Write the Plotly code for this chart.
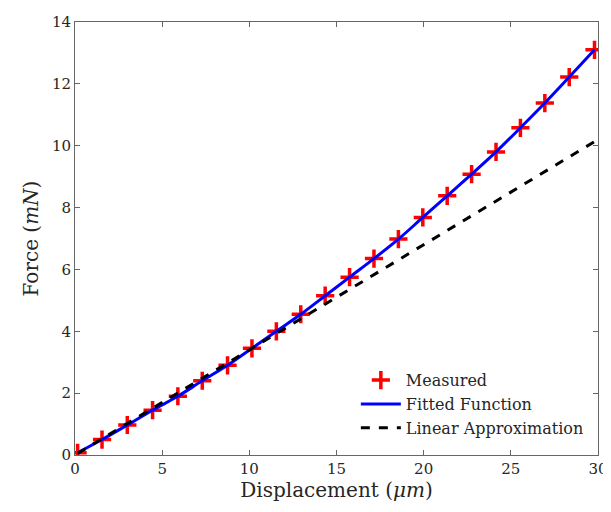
import plotly.graph_objects as go

disp = [0.15, 1.55, 3.0, 4.45, 5.9, 7.3, 8.75, 10.15, 11.55, 12.95, 14.35, 15.75,
        17.15, 18.55, 19.95, 21.35, 22.75, 24.15, 25.55, 26.95, 28.35, 29.8]
force = [0.07, 0.5, 0.97, 1.45, 1.9, 2.4, 2.9, 3.45, 4.0, 4.55, 5.15, 5.75,
         6.35, 6.98, 7.68, 8.38, 9.08, 9.8, 10.58, 11.38, 12.22, 13.1]
lin_x = [0.15, 30.0]
lin_y = [0.05, 10.2]

font = "DejaVu Serif"
fig = go.Figure()
fig.add_trace(go.Scatter(x=disp, y=force, mode="markers", name="Measured",
                         marker=dict(symbol="cross-thin", size=13, color="red",
                                     line=dict(color="red", width=3.5))))
fig.add_trace(go.Scatter(x=disp, y=force, mode="lines", name="Fitted Function",
                         line=dict(color="blue", width=3, shape="spline")))
fig.add_trace(go.Scatter(x=lin_x, y=lin_y, mode="lines", name="Linear Approximation",
                         line=dict(color="black", width=3, dash="dash")))

axis_common = dict(showline=True, linecolor="#666666", linewidth=1, mirror="ticks",
                   ticks="inside", ticklen=5, tickcolor="#666666", showgrid=False,
                   zeroline=False, automargin=False,
                   tickfont=dict(family=font, size=15, color="#262626"))
fig.update_xaxes(range=[0, 30], dtick=5, title=dict(text="Displacement (<i>μm</i>)",
                 font=dict(family=font, size=20, color="#262626"), standoff=0), **axis_common)
fig.update_yaxes(range=[0, 14], dtick=2, title=dict(text="Force (<i>mN</i>)",
                 font=dict(family=font, size=20, color="#262626"), standoff=7), **axis_common)
fig.update_layout(width=603, height=504, plot_bgcolor="white", paper_bgcolor="white",
                  margin=dict(l=67, r=13, t=14, b=57),
                  legend=dict(x=0.537, y=0.212, xanchor="left", yanchor="top",
                              bgcolor="rgba(255,255,255,0)", borderwidth=0,
                              font=dict(family=font, size=16, color="#262626"),
                              tracegroupgap=0, itemwidth=40))
fig.write_html("out.html")
